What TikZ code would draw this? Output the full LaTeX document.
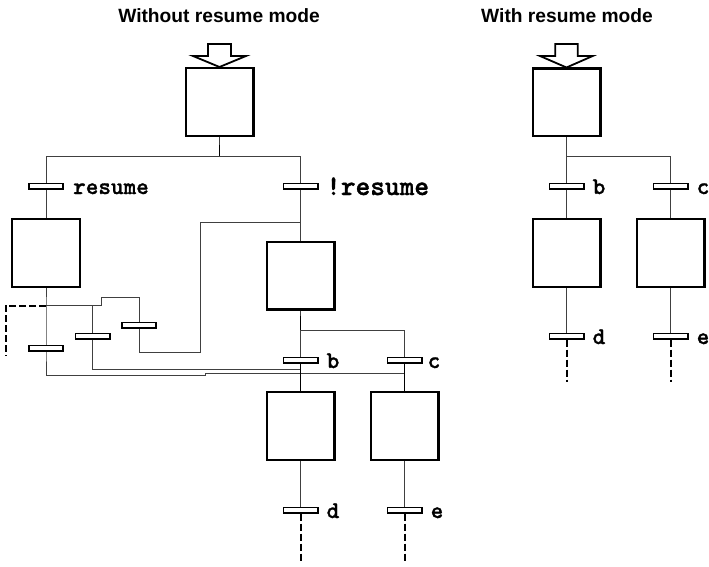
\documentclass[tikz,border=0pt]{standalone}
\usepackage{fontspec}
\newfontfamily\titlefont{Liberation Sans}
\newfontfamily\labfont{lmmonolt10-bold.otf}[FakeBold=1.2]
\usetikzlibrary{calc}
\tikzset{
  stepbox/.style={draw, line width=2.2pt, minimum width=67.8pt, minimum height=67.8pt, inner sep=0pt, fill=white},
  trans/.style={draw, line width=1.6pt, fill=white, minimum width=34.4pt, minimum height=5.4pt, inner sep=0pt},
  link/.style={line width=1pt, draw=black!75},
  hlink/.style={line width=1.8pt, draw=black},
  dlink/.style={line width=2pt, dash pattern=on 7pt off 3pt},
  lab/.style={font=\labfont\fontsize{24}{24}\selectfont, inner sep=0pt, anchor=base west},
  biglab/.style={font=\labfont\fontsize{28}{28}\selectfont, inner sep=0pt, anchor=base west},
  ttl/.style={font=\titlefont\bfseries\fontsize{19.2}{19.2}\selectfont, inner sep=0pt, anchor=base},
  initarrow/.style={line width=1.8pt, fill=white, line join=miter}
}
\begin{document}
\begin{tikzpicture}[x=1pt,y=-1pt]
\useasboundingbox (0,0) rectangle (709,567);
% titles
\node[ttl] (t1) at (219,22.7) {Without resume mode};
\node[ttl] (t2) at (567,22.7) {With resume mode};

% ---------- left diagram: coordinates ----------
\coordinate (j0) at (219.5,156.7);
\coordinate (jl) at (46,156.7);
\coordinate (jr) at (300.5,156.7);
\coordinate (k1) at (300.5,222.7);
\coordinate (k2) at (200,222.7);
\coordinate (k3) at (200,352);
\coordinate (k4) at (139,352);
\coordinate (m1) at (139,297.3);
\coordinate (m2) at (101,297.3);
\coordinate (m3) at (101,305.7);
\coordinate (m4) at (46,305.7);
\coordinate (m5) at (92.5,305.7);
\coordinate (dz1) at (5.7,305.7);
\coordinate (dz2) at (5.7,356);
\coordinate (u1) at (92.5,369);
\coordinate (u2) at (300.5,369);
\coordinate (w1) at (46,375.3);
\coordinate (w2) at (205.7,375.3);
\coordinate (w3) at (205.7,373);
\coordinate (w4) at (404.5,373);
\coordinate (v1) at (300.5,330);
\coordinate (v2) at (404.5,330);
\coordinate (dd) at (300.5,563);
\coordinate (de) at (404.5,563);

% nodes (left)
\node[stepbox] (L0) at (219.5,102) {};
\node[stepbox] (L1) at (46,253) {};
\node[stepbox] (L2) at (300.5,275.5) {};
\node[stepbox] (L3) at (300.5,426) {};
\node[stepbox] (L4) at (404.5,426) {};

% links (left) drawn before bars
\draw[link] (L0.south) -- (j0);
\draw[hlink] (219.5,145) -- (j0);
\draw[link] (jl) -- (jr);
\draw[link] (jl) -- (46,186);
\draw[link] (jr) -- (300.5,186);
\draw[link] (46,186) -- (L1.north);
\draw[link] (300.5,186) -- (L2.north);
\draw[link] (k1) -- (k2) -- (k3) -- (k4) -- (139,325);
\draw[link] (139,325) -- (m1) -- (m2) -- (m3) -- (m4);
\draw[link] (L1.south) -- (m4) -- (46,348) -- (w1) -- (w2) -- (w3) -- (w4);
\draw[link] (m5) -- (92.5,336.3) -- (u1) -- (u2);
\draw[dlink] (m4) -- (dz1) -- (dz2);
\draw[link] (L2.south) -- (v1) -- (300.5,360);
\draw[hlink] (300.5,316) -- (v1);
\draw[link] (v1) -- (v2) -- (404.5,360);

% bars (left)
\node[trans] (Lt1) at (46,186) {};
\node[trans] (Lt2) at (300.5,186) {};
\node[trans] (Lt3) at (139,325) {};
\node[trans] (Lt4) at (92.5,336.3) {};
\node[trans] (Lt5) at (46,348) {};
\node[trans] (Lb) at (300.5,360) {};
\node[trans] (Lc) at (404.5,360) {};
\node[trans] (Ld) at (300.5,510) {};
\node[trans] (Le) at (404.5,510) {};

\draw[hlink] (Lb.south) -- (L3.north);
\draw[hlink] (Lc.south) -- (L4.north);
\draw[link] (L3.south) -- (Ld.north);
\draw[link] (L4.south) -- (Le.north);
\draw[dlink] (Ld.south) -- (dd);
\draw[dlink] (Le.south) -- (de);

% labels (left)
\node[lab] (lres) at ($(Lt1.east)+(9,8)$) {resume};
\node[biglab] (lnres) at ($(Lt2.east)+(7.5,9)$) {!resume};
\node[lab] (lb) at ($(Lb.east)+(8,8)$) {b};
\node[lab] (lc) at ($(Lc.east)+(5,8)$) {c};
\node[lab] (ld) at ($(Ld.east)+(8,8)$) {d};
\node[lab] (le) at ($(Le.east)+(8,8)$) {e};

% initial arrow (left)
\draw[initarrow, shift={(L0.north)}]
  (-11.5,-23) -- (11.5,-23) -- (11.5,-11) -- (26.5,-11) -- (0,0) -- (-26.5,-11) -- (-11.5,-11) -- cycle;

% ---------- right diagram ----------
\coordinate (r0) at (566.5,156.7);
\coordinate (r1) at (670.5,156.7);
\coordinate (rdd) at (566.5,381.7);
\coordinate (rde) at (670.5,381.7);

\node[stepbox] (R0) at (566.5,102.5) {};
\node[stepbox] (R1) at (566.5,253) {};
\node[stepbox] (R2) at (670.5,253) {};

\draw[link] (R0.south) -- (r0) -- (566.5,186);
\draw[link] (r0) -- (r1) -- (670.5,186);

\node[trans] (Rb) at (566.5,186) {};
\node[trans] (Rc) at (670.5,186) {};
\node[trans] (Rd) at (566.5,336) {};
\node[trans] (Re) at (670.5,336) {};

\draw[link] (Rb.south) -- (R1.north);
\draw[link] (Rc.south) -- (R2.north);
\draw[link] (R1.south) -- (Rd.north);
\draw[link] (R2.south) -- (Re.north);
\draw[dlink] (Rd.south) -- (rdd);
\draw[dlink] (Re.south) -- (rde);

\node[lab] (rb) at ($(Rb.east)+(8,8)$) {b};
\node[lab] (rc) at ($(Rc.east)+(8,8)$) {c};
\node[lab] (rd) at ($(Rd.east)+(8,8)$) {d};
\node[lab] (re) at ($(Re.east)+(8,8)$) {e};

\draw[initarrow, shift={(R0.north)}]
  (-11.3,-23.5) -- (11.3,-23.5) -- (11.3,-11.5) -- (26.2,-11.5) -- (0,0) -- (-26.5,-11.5) -- (-11.3,-11.5) -- cycle;
\end{tikzpicture}
\end{document}
